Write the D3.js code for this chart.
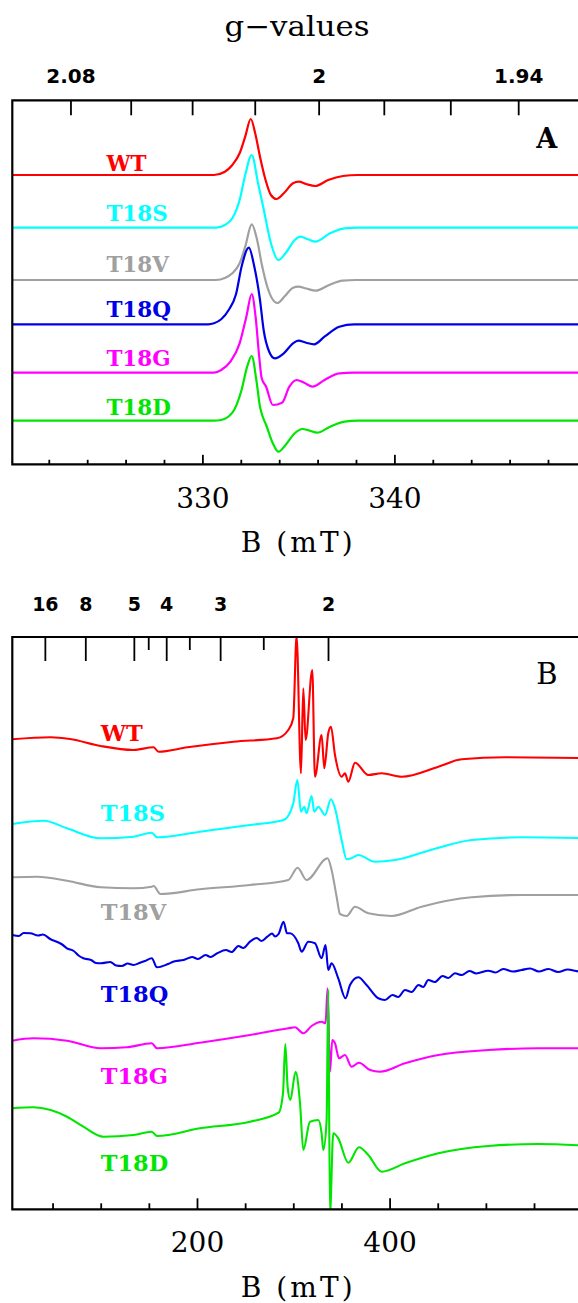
<!DOCTYPE html>
<html><head><meta charset="utf-8">
<script src="https://cdn.jsdelivr.net/npm/d3@7"></script>
<style>
html,body{margin:0;padding:0;background:#fff;overflow:hidden;}
svg{display:block;}
</style></head>
<body>
<svg id="chart" width="578" height="1303"></svg>
<script>
// ---------------- DATA ----------------
const seriesNames = ["WT", "T18S", "T18V", "T18Q", "T18G", "T18D"];
const FREQ_GHZ = 9.407;          // microwave frequency
const H_OVER_MUB = 71.4477;      // mT per GHz for g = 1

// Panel A tick values
const gTicksA = [2.08, 2.06, 2.04, 2.02, 2.00, 1.98, 1.96, 1.94];
const gLabelsA = ["2.08", "", "", "", "2", "", "", "1.94"];
const bMajorA = [330, 340];
const bMinorA = [322, 324, 326, 328, 332, 334, 336, 338, 342, 344, 346, 348];
// Panel B tick values
const gMajorB = [16, 8, 5, 4, 3, 2];
const gMinorB = [4.5, 3.5, 2.5];
const bMajorB = [200, 400];
const bMinorB = [50, 100, 150, 250, 300, 350, 450, 500, 550];

// Panel A spectra: [B (mT), signal (a.u.)]
const wtA = [[320.1,0],[330.6,0],[331.17,3.3],[331.56,10],[331.94,21.7],[332.23,38.3],[332.52,56],[332.75,41.7],[333.0,18.3],[333.29,-5],[333.57,-20],[333.86,-24],[334.24,-18.3],[334.72,-8.3],[335.02,-6.7],[335.4,-9],[335.88,-11],[336.55,-5],[337.32,-1],[338.08,0],[350,0]];
const t18sA = [[320.1,0],[330.7,0],[331.17,2.7],[331.56,9.4],[331.94,27.7],[332.23,52.7],[332.57,72.7],[332.9,44.4],[333.2,17.7],[333.57,-15.6],[333.96,-32.3],[334.33,-25.6],[334.81,-12.3],[335.1,-9],[335.5,-11.6],[335.88,-14],[336.65,-5.6],[337.4,-0.6],[338.1,0],[350,0]];
const t18vA = [[320.1,0],[330.7,0],[331.17,2],[331.56,6.7],[331.94,16.7],[332.23,33.3],[332.57,55.7],[332.85,40],[333.1,15],[333.4,-8],[333.9,-23],[334.3,-16],[334.7,-8],[335.0,-6.7],[335.4,-8.5],[335.9,-10.7],[336.6,-5],[337.3,-0.7],[338,0],[350,0]];
const t18qA = [[320.1,0],[330.3,0],[330.6,1],[330.98,5],[331.37,14.3],[331.75,30],[332.04,57.6],[332.42,76.6],[332.7,58],[333.0,24.3],[333.19,-5.7],[333.48,-27.4],[333.77,-34],[334.24,-29],[334.72,-19],[335.0,-16.4],[335.4,-18.4],[335.82,-20],[336.36,-12.4],[337.13,-2.4],[337.9,0],[350,0]];
const t18gA = [[320.1,0],[330.6,0],[330.98,2.7],[331.46,11],[331.94,29.4],[332.29,56],[332.57,78.7],[332.77,56],[332.96,16],[333.09,-5.6],[333.32,-14],[333.67,-32.3],[334.15,-30],[334.53,-14],[334.9,-7.3],[335.3,-10],[335.74,-14],[336.36,-7.3],[337.13,-0.6],[337.9,0],[350,0]];
const t18dA = [[320.1,0],[330.6,0],[330.98,0.7],[331.56,8],[332.04,30.7],[332.33,54],[332.57,64.7],[332.81,40.7],[333.0,14],[333.13,4.7],[333.32,-4.3],[333.67,-22.6],[333.96,-31],[334.33,-24.3],[334.81,-12.6],[335.2,-8.3],[335.59,-10],[335.97,-12],[336.65,-6],[337.4,-1],[338.1,0],[350,0]];

// Panel B spectra: [B (mT), signal (a.u.)]
const wtB = [[8.2,0.7],[48,2.7],[68,1],[100,-6],[134,-10],[155,-7.3],[160,-11.7],[190,-7.3],[238,-1.7],[283,1.7],[294.8,10],[300,22],[303.4,104],[308,-33.3],[310.4,51.7],[312.8,0],[319.7,70],[322.5,-36.7],[329.4,5],[332.2,-28.3],[336.3,6.7],[339.1,13.3],[343.3,-15],[350.2,-36.7],[353.7,-33.3],[357.1,-41.7],[364.1,-22.7],[377.9,-35],[391.7,-33.3],[412.5,-36.7],[450.6,-26.7],[474.8,-19.3],[519.8,-17.3],[610,-18.3]];
const t18sB = [[8.2,0],[41,3.3],[65,-4.3],[100,-14.3],[134,-12.7],[153,-8.7],[158.5,-13.3],[203,-7.7],[255,-1],[290,4],[297,12.3],[300,20.7],[304.2,44],[308,12.3],[311.4,17.3],[313.8,10.7],[319,28],[321.8,12.3],[326,17.3],[332.9,9],[339.1,24.7],[343.3,15.7],[350.2,-16],[355.4,-35.3],[360.5,-34.3],[367.5,-31],[384.8,-37.7],[405.6,-36],[440.2,-26.7],[485.2,-16],[537.1,-13.3],[610,-14.3]];
const t18vB = [[8.2,-0.3],[34,0.3],[65,-3.7],[100,-10.3],[134,-11.3],[153,-9.7],[155,-9],[162,-17],[203,-12.3],[255,-8],[294.8,-3],[304.5,9.3],[313.8,-3],[335.6,18.7],[339.8,7],[345,-19.7],[348.5,-37],[355.4,-39],[364.1,-29.7],[377.9,-36.3],[402.1,-39],[433.2,-29.7],[485.2,-20.3],[537.1,-18],[610,-18]];
const t18qB = [[8.2,0],[15,-1],[20,2],[27,1.7],[35,-0.5],[40,0.5],[48,-4.3],[55,-7],[60,-9.5],[65,-13.3],[72,-16],[77,-20.5],[82,-23.3],[90,-25],[95,-28],[100,-28.3],[110,-27],[116,-30.5],[122,-31],[128,-28.5],[134,-30],[141,-27.7],[146,-26],[153,-23.3],[158.5,-32.3],[170,-29],[176,-26.5],[186,-25],[195,-22],[201,-24],[209,-20],[214,-22],[221,-18.3],[230,-15],[236,-17],[243,-11],[248,-13],[255,-6.7],[262,-3],[267,-6],[273,-1.7],[278,1.5],[281,-1.5],[284.7,1],[289.9,13.3],[293.5,1.7],[296.6,1.7],[305.2,-8.3],[308.6,-16.7],[315.6,-6.7],[322.5,-8.3],[329.4,-23.3],[333.5,-10],[336.3,-35],[339.8,-28.3],[346.7,-43.3],[354.3,-63.3],[358.9,-50],[367.5,-42.3],[376.1,-50],[388.3,-63.3],[395.2,-65],[403,-60],[409,-62],[416,-55],[423,-57],[430,-50],[435,-52],[440.2,-45],[447,-47],[455,-41],[461,-43],[467.9,-38.3],[475,-40],[483,-36],[490,-38.5],[502.5,-35.7],[510,-37.5],[518,-34],[528,-36.5],[537.1,-35],[546,-33.5],[555,-36.5],[565,-34],[575,-37],[585,-34.5],[597,-36.5],[610,-35.7]];
const t18gB = [[8.2,0.3],[30,2.7],[65,0.3],[100,-7.3],[127,-6.3],[153,-2.3],[158.5,-7.3],[203,-1.7],[255,6],[294.8,12.7],[301.8,13.7],[310.4,7.7],[319,15],[329.4,19.3],[333.5,17.7],[335.6,52.7],[338.1,-30.7],[340.5,1],[343.3,-2.3],[347.5,-17.3],[353.7,-14],[360.5,-25.7],[368.2,-21.7],[379.7,-29],[390,-30.7],[416,-22.3],[450.6,-14],[502.5,-9],[554.4,-7.3],[610,-7.3]];
const t18dB = [[8.2,-0.3],[30,0.7],[48,-2],[65,-8.7],[82,-18.7],[103,-28.7],[134,-27],[153,-23.7],[158.5,-28],[203,-20.3],[255,-13.7],[284.7,-4.7],[289.3,14.7],[291.7,64],[294.1,21.3],[296.9,8],[302.4,36.3],[307,4.7],[310.4,-42],[317.3,-13.7],[326,-12],[329.4,-25.3],[331.2,-42],[334.6,-12],[336.3,118],[338.1,-106],[341.5,-25.3],[346.7,-30.3],[357.1,-54.7],[368.2,-39.3],[377.9,-47],[391.7,-63.7],[416,-55.3],[450.6,-45.3],[502.5,-38],[554.4,-36],[610,-38]];

// vertical stacking of the traces (a.u.) and label heights (a.u.)
const stackA = [289.3, 236.6, 184.3, 140, 91.6, 43.6];
const labelA = [293.3, 243.3, 192.8, 147.3, 98.3, 49.3];
const stackB = [469.3, 385.3, 332.3, 274.3, 168.3, 101.3];
const labelB = [468.6, 388.3, 289.3, 207, 125.3, 38.6];

// ---------------- STYLE / LAYOUT ----------------
const colors = ["#ff0000", "#00ffff", "#a0a0a0", "#0000e6", "#ff00ff", "#00e600"];
const seriesA = [wtA, t18sA, t18vA, t18qA, t18gA, t18dA];
const seriesB = [wtB, t18sB, t18vB, t18qB, t18gB, t18dB];
const gToB = g => H_OVER_MUB * FREQ_GHZ / g;

const svg = d3.select("#chart");
const SERIF = "'DejaVu Serif', serif";
const SANSB = "'DejaVu Sans', sans-serif";

function panel(cfg) {
  const x = d3.scaleLinear().domain(cfg.xDomain).range([cfg.left, cfg.right]);
  const y = d3.scaleLinear().domain(cfg.yDomain).range([cfg.bottom, cfg.top]);
  const g = svg.append("g");
  const clipId = "clip" + cfg.id;
  svg.append("clipPath").attr("id", clipId).append("rect")
    .attr("x", cfg.left).attr("y", cfg.top - 1)
    .attr("width", cfg.right - cfg.left).attr("height", cfg.bottom - cfg.top + 1);

  // traces
  const line = d3.line().curve(d3.curveMonotoneX);
  const tg = g.append("g").attr("clip-path", `url(#${clipId})`);
  cfg.series.forEach((s, i) => {
    line.x(d => x(d[0])).y(d => y(d[1] + cfg.stack[i]));
    tg.append("path").attr("d", line(s)).attr("fill", "none")
      .attr("stroke", colors[i]).attr("stroke-width", cfg.lw)
      .attr("stroke-linejoin", "round");
  });

  // labels
  seriesNames.forEach((n, i) => {
    g.append("text").attr("x", x(cfg.labelX)).attr("y", y(cfg.labels[i]))
      .attr("fill", colors[i]).attr("font-family", SERIF).attr("font-weight", "bold")
      .attr("font-size", cfg.labelSize).text(n);
  });

  // bottom axis (B)
  const axB = d3.axisBottom(x).tickValues(cfg.bMajor).tickSize(-cfg.majLen).tickFormat(d3.format("d"));
  const gb = g.append("g").attr("transform", `translate(0,${cfg.bottom})`).call(axB);
  gb.select(".domain").remove();
  gb.selectAll(".tick line").attr("stroke", "#000").attr("stroke-width", 1.8);
  gb.selectAll(".tick text").attr("font-family", SERIF).attr("font-size", 28).attr("fill", "#000")
    .attr("dy", null).attr("y", cfg.bLabelY);
  const axBm = d3.axisBottom(x).tickValues(cfg.bMinor).tickSize(-cfg.minLen).tickFormat("");
  const gbm = g.append("g").attr("transform", `translate(0,${cfg.bottom})`).call(axBm);
  gbm.select(".domain").remove();
  gbm.selectAll(".tick line").attr("stroke", "#000").attr("stroke-width", 1.8);

  // top axis (g-values)
  cfg.gAxes.forEach(ga => {
    const ax = d3.axisTop(x).tickValues(ga.values.map(gToB)).tickSize(-ga.len)
      .tickFormat((d, i) => ga.labels[i]);
    const gt = g.append("g").attr("transform", `translate(0,${cfg.top})`).call(ax);
    gt.select(".domain").remove();
    gt.selectAll(".tick line").attr("stroke", "#000").attr("stroke-width", 1.8);
    gt.selectAll(".tick text").attr("font-family", SANSB).attr("font-weight", "bold")
      .attr("font-size", cfg.gFont).attr("fill", "#000").attr("dy", null).attr("y", -cfg.gPad);
  });

  // frame (left, top, bottom)
  const frame = d3.path();
  frame.moveTo(cfg.right + 10, cfg.top); frame.lineTo(cfg.left, cfg.top);
  frame.lineTo(cfg.left, cfg.bottom); frame.lineTo(cfg.right + 10, cfg.bottom);
  g.append("path").attr("d", frame.toString()).attr("fill", "none")
    .attr("stroke", "#000").attr("stroke-width", 2.2).attr("stroke-linejoin", "miter");

  // axis title
  g.append("text").attr("x", cfg.titleX).attr("y", cfg.titleY).attr("text-anchor", "middle")
    .attr("font-family", SERIF).attr("font-size", 28).attr("fill", "#000")
    .attr("textLength", 112).attr("lengthAdjust", "spacing").text("B (mT)");

  // panel letter
  g.append("text").attr("x", cfg.letterX).attr("y", cfg.letterY).attr("text-anchor", "middle")
    .attr("font-family", SERIF).attr("font-weight", cfg.letterWeight).attr("font-size", cfg.letterSize)
    .attr("fill", "#000").text(cfg.letter);
}

panel({
  id: "A", xDomain: [320.1, 350], left: 12.3, right: 586.4,
  yDomain: [0, 364], top: 100.3, bottom: 464.3,
  series: seriesA, stack: stackA, labels: labelA, labelX: 325.0, labelSize: 21.5, lw: 2.2,
  bMajor: bMajorA, bMinor: bMinorA, majLen: 9.5, minLen: 4.5, bLabelY: 44,
  gAxes: [{values: gTicksA, labels: gLabelsA, len: 15}], gFont: 20, gPad: 17.8,
  titleX: 296.7, titleY: 551.7, letter: "A", letterX: 546.7, letterY: 148.3,
  letterSize: 27, letterWeight: "bold"
});

panel({
  id: "B", xDomain: [8.2, 610], left: 12.3, right: 591.8,
  yDomain: [0, 572.3], top: 637, bottom: 1209.3,
  series: seriesB, stack: stackB, labels: labelB, labelX: 100, labelSize: 22.5, lw: 2.1,
  bMajor: bMajorB, bMinor: bMinorB, majLen: 11, minLen: 6, bLabelY: 42.4,
  gAxes: [{values: gMajorB, labels: gMajorB.map(String), len: 24},
          {values: gMinorB, labels: gMinorB.map(() => ""), len: 13}], gFont: 19, gPad: 26.3,
  titleX: 296.7, titleY: 1296.7, letter: "B", letterX: 546.8, letterY: 684.3,
  letterSize: 29, letterWeight: "normal"
});

// top title
svg.append("text").attr("x", 297).attr("y", 36).attr("text-anchor", "middle")
  .attr("font-family", SERIF).attr("font-size", 28).attr("fill", "#000")
  .attr("textLength", 145).attr("lengthAdjust", "spacingAndGlyphs").text("g\u2212values");
</script>
</body></html>
